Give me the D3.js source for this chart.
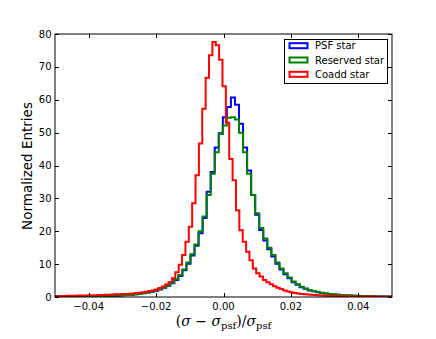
<!DOCTYPE html>
<html><head><meta charset="utf-8">
<script src="https://cdn.jsdelivr.net/npm/d3@7"></script>
<style>body{margin:0;background:#fff}svg{display:block}</style>
</head><body>
<svg id="c" width="436" height="339"></svg>
<script>
// Data
const seriesNames = ["PSF star", "Reserved star", "Coadd star"];
const xTicks = [-0.04, -0.02, 0.00, 0.02, 0.04];
const yTicks = [0, 10, 20, 30, 40, 50, 60, 70, 80];
// bin layout for PSF / Reserved histograms
const bgBinStart = -0.0506, bgBinWidth = 0.0012;
const psfValues = [
 0.05,0.05,0.06,0.07,0.07,0.08,0.09,0.11,0.13,0.15,
 0.18,0.21,0.25,0.29,0.33,0.38,0.44,0.51,0.6,0.69,
 0.82,0.96,1.15,1.35,1.63,1.92,2.3,2.8,3.45,4.2,
 5.2,6.4,8.1,10.1,12.6,15.6,19.4,24,
 32,38,45.5,49.8,54.7,57.8,60.7,58.5,52.7,45.5,38.5,31,
 25,20.4,17.2,14.5,12.3,10.1,8.4,6.9,5.7,4.5,
 3.7,3.0,2.5,2.0,1.72,1.44,1.25,1.05,0.9,0.77,
 0.67,0.57,0.48,0.43,0.38,0.33,0.29,0.26,0.23,0.19,
 0.17,0.15,0.13,0.11,0.1];
const reservedValues = [
 0.05,0.05,0.06,0.07,0.08,0.09,0.1,0.12,0.14,0.16,
 0.19,0.22,0.26,0.3,0.35,0.4,0.46,0.53,0.62,0.72,
 0.85,1.0,1.2,1.4,1.7,2.0,2.4,2.9,3.6,4.4,
 5.4,6.7,8.4,10.5,13,16,20,24.5,31,37.5,
 44,49.6,52.2,54.5,54.7,54.0,50,44,37.5,31,
 25.5,21,17.8,15,12.8,10.5,8.7,7.2,5.9,4.7,
 3.9,3.1,2.6,2.1,1.8,1.5,1.3,1.1,0.95,0.8,
 0.7,0.6,0.5,0.45,0.4,0.35,0.3,0.27,0.24,0.2,
 0.18,0.16,0.14,0.12,0.1];
// bin layout for Coadd histogram
const coaddBinStart = -0.0503, coaddBinWidth = 0.001;
const coaddValues = [
 0.3,0.3,0.32,0.34,0.36,0.38,0.4,0.42,0.45,0.48,
 0.5,0.53,0.56,0.6,0.63,0.67,0.7,0.75,0.8,0.85,
 0.9,0.95,1.0,1.1,1.2,1.3,1.45,1.6,1.8,2.0,
 2.3,2.7,3.2,3.8,4.6,5.7,7.5,9.8,12.8,16.8,
 21.4,28.5,37,46.7,57.3,66.7,73.5,77.6,76.6,72.2,
 64.1,53,42,35.5,26.4,20.3,16.8,13.8,11.2,8.7,
 7.2,6.2,5.2,4.5,3.9,3.3,2.8,2.4,2.0,1.7,
 1.45,1.25,1.1,0.95,0.85,0.75,0.65,0.58,0.52,0.46,
 0.41,0.37,0.33,0.3,0.27,0.25,0.23,0.21,0.19,0.17,
 0.16,0.15,0.14,0.13,0.12,0.11,0.1,0.1,0.09,0.09];

const colors = ["#0000ff", "#008000", "#ff0000"];

const svg = d3.select("#c");
const L = 55, R = 392, T = 34, B = 297;
const x = d3.scaleLinear().domain([-0.05, 0.05]).range([L, R]);
const y = d3.scaleLinear().domain([0, 80]).range([B, T]);

svg.append("defs").append("clipPath").attr("id","clip")
  .append("rect").attr("x",L).attr("y",T).attr("width",R-L).attr("height",B-T);

function stepPoints(start, width, vals){
  const pts = [[start, 0]];
  vals.forEach((v,i)=>{
    pts.push([start + i*width, v]);
    pts.push([start + (i+1)*width, v]);
  });
  pts.push([start + vals.length*width, 0]);
  return pts;
}
const series = [
  {vals: psfValues, start: bgBinStart, w: bgBinWidth},
  {vals: reservedValues, start: bgBinStart, w: bgBinWidth},
  {vals: coaddValues, start: coaddBinStart, w: coaddBinWidth}
];
const line = d3.line().x(d=>x(d[0])).y(d=>y(d[1]));
const g = svg.append("g").attr("clip-path","url(#clip)");
series.forEach((s,i)=>{
  g.append("path").attr("d", line(stepPoints(s.start, s.w, s.vals)))
   .attr("fill","none").attr("stroke",colors[i]).attr("stroke-width",2)
   .attr("stroke-linejoin","miter");
});

// frame
svg.append("rect").attr("x",L).attr("y",T).attr("width",R-L).attr("height",B-T)
  .attr("fill","none").attr("stroke","#000").attr("stroke-width",1);

// ticks (inside, all sides)
const tl = 4;
const fmt = d => (d<0?"\u2212":"") + Math.abs(d).toFixed(2);
xTicks.forEach(t=>{
  const px = Math.round(x(t))+0.5;
  svg.append("line").attr("x1",px).attr("x2",px).attr("y1",B).attr("y2",B-tl).attr("stroke","#000");
  svg.append("line").attr("x1",px).attr("x2",px).attr("y1",T).attr("y2",T+tl).attr("stroke","#000");
  svg.append("text").attr("x",x(t)).attr("y",310).attr("text-anchor","middle")
    .attr("font-family","DejaVu Sans").attr("font-size",10).text(fmt(t));
});
yTicks.forEach(t=>{
  const py = Math.round(y(t))+0.5;
  svg.append("line").attr("x1",L).attr("x2",L+tl).attr("y1",py).attr("y2",py).attr("stroke","#000");
  svg.append("line").attr("x1",R).attr("x2",R-tl).attr("y1",py).attr("y2",py).attr("stroke","#000");
  svg.append("text").attr("x",51.5).attr("y",y(t)+3.6).attr("text-anchor","end")
    .attr("font-family","DejaVu Sans").attr("font-size",10).text(t);
});

// y label
svg.append("text").attr("transform","translate(32,166) rotate(-90)")
  .attr("text-anchor","middle").attr("font-family","DejaVu Sans").attr("font-size",13.5)
  .text("Normalized Entries");

// x label (math)
const xl = svg.append("text").attr("x",223.5).attr("y",326).attr("text-anchor","middle")
  .attr("font-family","DejaVu Serif").attr("font-size",14);
xl.append("tspan").text("(");
xl.append("tspan").attr("font-style","italic").text("σ");
xl.append("tspan").text(" \u2212 ");
xl.append("tspan").attr("font-style","italic").text("σ");
xl.append("tspan").attr("font-size",10).attr("dy",3).text("psf");
xl.append("tspan").attr("dy",-3).text(")/");
xl.append("tspan").attr("font-style","italic").text("σ");
xl.append("tspan").attr("font-size",10).attr("dy",3).text("psf");

// legend
const lg = svg.append("g");
lg.append("rect").attr("x",284.5).attr("y",39.5).attr("width",103).attr("height",44)
  .attr("fill","#fff").attr("stroke","#000").attr("stroke-width",1);
seriesNames.forEach((n,i)=>{
  const cy = 45.7 + i*14.3;
  lg.append("rect").attr("x",289.5).attr("y",cy-2.5).attr("width",18).attr("height",5)
    .attr("fill","none").attr("stroke",colors[i]).attr("stroke-width",2);
  lg.append("text").attr("x",315).attr("y",cy+3.6).attr("font-family","DejaVu Sans")
    .attr("font-size",10).text(n);
});
</script>
</body></html>
